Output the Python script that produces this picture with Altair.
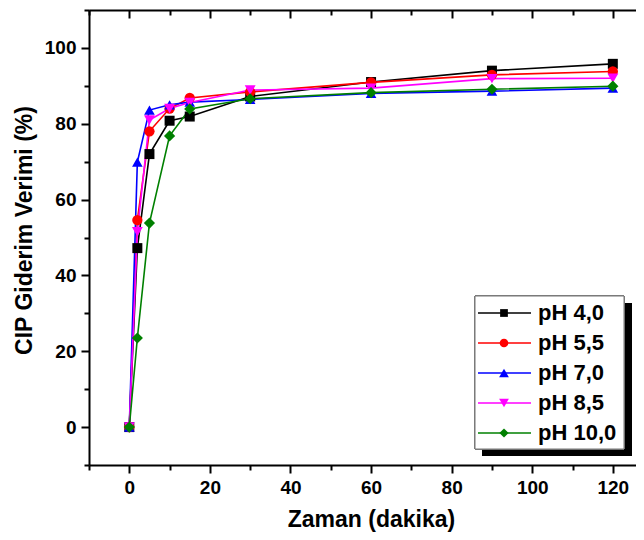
import altair as alt
import pandas as pd

# ---- data ----
time_min = [0, 2, 5, 10, 15, 30, 60, 90, 120]
series_names = ["pH 4,0", "pH 5,5", "pH 7,0", "pH 8,5", "pH 10,0"]
ph_4_0 = [0, 47.2, 72.0, 80.8, 81.9, 87.2, 91.0, 94.0, 95.8]
ph_5_5 = [0, 54.6, 78.0, 84.0, 86.8, 88.4, 90.9, 92.9, 93.8]
ph_7_0 = [0, 69.9, 83.6, 85.0, 85.7, 86.4, 88.0, 88.6, 89.4]
ph_8_5 = [0, 51.5, 81.0, 84.0, 85.6, 88.9, 89.4, 91.9, 92.0]
ph_10_0 = [0, 23.5, 53.8, 76.8, 83.9, 86.6, 88.2, 89.1, 89.9]

x_major = [0, 20, 40, 60, 80, 100, 120]
x_minor = [-10, 10, 30, 50, 70, 90, 110]
y_major = [0, 20, 40, 60, 80, 100]
y_minor = [-10, 10, 30, 50, 70, 90, 110]

# ---- styles ----
colors = ["#000000", "#ff0000", "#0000ff", "#ff00ff", "#008000"]
shapes = ["square", "circle", "triangle-up", "triangle-down", "diamond"]
marker_sizes = [100, 125, 160, 160, 140]
legend_marker_sizes = [60, 75, 95, 95, 85]

FONT = "Liberation Sans"

rows = []
for name, vals in zip(series_names, [ph_4_0, ph_5_5, ph_7_0, ph_8_5, ph_10_0]):
    for t, v in zip(time_min, vals):
        rows.append({"t": t, "v": v, "series": name})
df = pd.DataFrame(rows)
legend_df = pd.DataFrame({"series": series_names,
                          "i": list(range(len(series_names))),
                          "ms": legend_marker_sizes})

x_scale = alt.Scale(domain=[-10, 125.75], nice=False, zero=False)
y_scale = alt.Scale(domain=[-10, 110], nice=False, zero=False)
color = alt.Color("series:N", scale=alt.Scale(domain=series_names, range=colors), legend=None)
shape = alt.Shape("series:N", scale=alt.Scale(domain=series_names, range=shapes), legend=None)
size = alt.Size("series:N", scale=alt.Scale(domain=series_names, range=marker_sizes), legend=None)

base = alt.Chart(df)

lines = base.mark_line(strokeWidth=1.6).encode(
    x=alt.X("t:Q", scale=x_scale, axis=alt.Axis(
        orient="bottom", values=x_major, title="Zaman (dakika)", grid=False,
        tickSize=8, tickWidth=2, tickColor="black", domainColor="black", domainWidth=2,
        labelFont=FONT, labelFontSize=19, labelFontWeight="bold", labelColor="black",
        labelPadding=5, titleFont=FONT, titleFontSize=23, titleFontWeight="bold",
        titleColor="black", titleX=282, titleY=61, titleBaseline="alphabetic")),
    y=alt.Y("v:Q", scale=y_scale, axis=alt.Axis(
        orient="left", values=y_major, title="CIP Giderim Verimi (%)", grid=False,
        tickSize=8, tickWidth=2, tickColor="black", domainColor="black", domainWidth=2,
        labelFont=FONT, labelFontSize=19, labelFontWeight="bold", labelColor="black",
        labelPadding=5, titleFont=FONT, titleFontSize=23, titleFontWeight="bold",
        titleColor="black", titleX=-65, titleY=220, titleBaseline="middle", titleAngle=270)),
    color=color,
    detail="series:N",
)

points = base.mark_point(filled=True, opacity=1).encode(
    x=alt.X("t:Q", scale=x_scale, axis=alt.Axis(
        orient="bottom", values=x_minor, title=None, labels=False, domain=False, grid=False,
        tickSize=5, tickWidth=2, tickColor="black")),
    y=alt.Y("v:Q", scale=y_scale, axis=alt.Axis(
        orient="left", values=y_minor, title=None, labels=False, domain=False, grid=False,
        tickSize=5, tickWidth=2, tickColor="black")),
    color=color,
    shape=shape,
    size=size,
)

top_line = base.mark_point(opacity=0).encode(
    x=alt.X("t:Q", scale=x_scale, axis=alt.Axis(
        orient="top", title=None, labels=False, ticks=False, grid=False,
        domainColor="black", domainWidth=2)),
    y=alt.Y("v:Q", scale=y_scale, axis=None),
)

top_major = base.mark_point(opacity=0).encode(
    x=alt.X("t:Q", scale=x_scale, axis=alt.Axis(
        orient="top", values=x_major, title=None, labels=False, domain=False, grid=False,
        tickSize=8, offset=-8, tickWidth=2, tickColor="black")),
    y=alt.Y("v:Q", scale=y_scale, axis=None),
)

top_minor = base.mark_point(opacity=0).encode(
    x=alt.X("t:Q", scale=x_scale, axis=alt.Axis(
        orient="top", values=x_minor, title=None, labels=False, domain=False, grid=False,
        tickSize=5, offset=-5, tickWidth=2, tickColor="black")),
    y=alt.Y("v:Q", scale=y_scale, axis=None),
)

# ---- legend drawn by hand (box with drop shadow) ----
leg = alt.Chart(legend_df).transform_calculate(ly="303 + 30 * datum.i")

shadow = alt.Chart(legend_df).mark_rect(color="black").encode(
    x=alt.value(393), x2=alt.value(543), y=alt.value(293), y2=alt.value(446))
box = alt.Chart(legend_df).mark_rect(fill="white", stroke="#777777", strokeWidth=1).encode(
    x=alt.value(386), x2=alt.value(535), y=alt.value(286), y2=alt.value(439))
leg_lines = leg.mark_rule(strokeWidth=1.6).encode(
    x=alt.value(389), x2=alt.value(442), y=alt.Y("ly:Q", scale=None), color=color)
leg_points = leg.mark_point(filled=True, opacity=1).encode(
    x=alt.value(415), y=alt.Y("ly:Q", scale=None), color=color, shape=shape,
    size=alt.Size("ms:Q", scale=None, legend=None))
leg_text = leg.mark_text(align="left", baseline="middle", font=FONT, fontSize=22,
                         fontWeight="bold", color="black").encode(
    x=alt.value(449), y=alt.Y("ly:Q", scale=None), text="series:N")

chart = alt.layer(
    top_line, top_major, top_minor, lines, points,
    shadow, box, leg_lines, leg_points, leg_text
).resolve_scale(
    x="independent", y="independent", size="independent"
).resolve_axis(
    x="independent", y="independent"
).properties(
    width=547, height=455,
    autosize=alt.AutoSizeParams(type="none"),
    padding={"left": 81, "top": 2, "right": 0, "bottom": 67},
    background="white",
).configure_view(stroke="transparent")

chart.save("out.html", embed_options={"renderer": "svg", "actions": False})
